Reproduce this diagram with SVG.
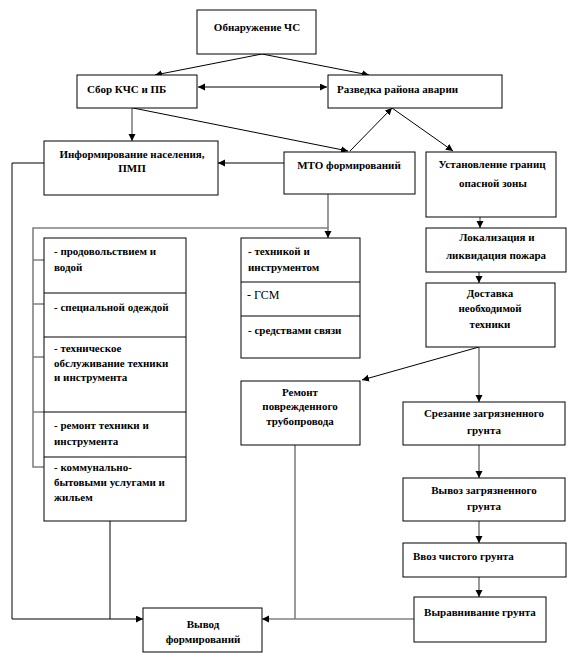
<svg xmlns="http://www.w3.org/2000/svg" width="570" height="655" viewBox="0 0 570 655">
<style>
.box{fill:#fff;stroke:#000;stroke-width:1}
text{font-family:'Liberation Serif','DejaVu Serif',serif;font-size:11px;font-weight:bold;fill:#000}
.c{text-anchor:middle}
.r{font-weight:normal;font-size:12px}
.ln{fill:none;stroke:#000;stroke-width:1}
.gl{fill:none;stroke:#808080;stroke-width:1.6}
</style>
<defs>
<marker id="ab" markerUnits="userSpaceOnUse" markerWidth="8" markerHeight="8" refX="7" refY="3.5" orient="auto-start-reverse"><path d="M0,0 L7,3.5 L0,7 Z" fill="#000"/></marker>
<marker id="ag" markerUnits="userSpaceOnUse" markerWidth="8" markerHeight="8" refX="7" refY="3.5" orient="auto"><path d="M0,0 L7,3.5 L0,7 Z" fill="#000"/></marker>
</defs>
<rect width="570" height="655" fill="#fff"/>
<g id="connectors">
<path class="ln" d="M262,54 L155,75" marker-end="url(#ab)"/>
<path class="ln" d="M262,54 L369,75" marker-end="url(#ab)"/>
<path class="ln" d="M198,87 L327,87" marker-start="url(#ab)" marker-end="url(#ab)"/>
<path class="gl" d="M132,108 L132,141" marker-end="url(#ag)"/>
<path class="ln" d="M133,108 L348,151" marker-end="url(#ab)"/>
<path class="ln" d="M350,151 L392,108" marker-end="url(#ab)"/>
<path class="ln" d="M392,108 L453,151" marker-end="url(#ab)"/>
<path class="ln" d="M284,163 L218,163" marker-end="url(#ab)"/>
<path class="ln" d="M44,163 L12,163 L12,619 L143,619" marker-end="url(#ab)"/>
<path class="gl" d="M328,194 L328,238" marker-end="url(#ag)"/>
<path class="gl" d="M328,228 L33,228 L33,467 L44,467"/>
<path class="gl" d="M33,260 L44,260 M33,304 L44,304 M33,357 L44,357 M33,412 L44,412"/>
<path class="gl" d="M480,217 L480,228" marker-end="url(#ag)"/>
<path class="gl" d="M479,272 L479,283" marker-end="url(#ag)"/>
<path class="ln" d="M479,347 L362,380" marker-end="url(#ab)"/>
<path class="gl" d="M479,347 L479,402" marker-end="url(#ag)"/>
<path class="gl" d="M479,445 L479,478" marker-end="url(#ag)"/>
<path class="gl" d="M479,521 L479,543" marker-end="url(#ag)"/>
<path class="gl" d="M479,577 L479,597" marker-end="url(#ag)"/>
<path class="gl" d="M295,445 L295,619"/>
<path class="gl" d="M414,619 L262,619" marker-end="url(#ag)"/>
<path class="ln" d="M110,521 L110,619"/>
</g>
<g id="n-obnaruzhenie"><rect class="box" x="197" y="10" width="119" height="44"/><text class="c" x="257" y="31">Обнаружение ЧС</text></g>
<g id="n-sbor"><rect class="box" x="77" y="75" width="120" height="33"/><text x="87" y="93">Сбор КЧС и ПБ</text></g>
<g id="n-razvedka"><rect class="box" x="328" y="75" width="174" height="33"/><text x="337" y="93">Разведка района  аварии</text></g>
<g id="n-inform"><rect class="box" x="44" y="141" width="174" height="54"/><text class="c" x="132" y="158">Информирование населения,</text><text class="c" x="132" y="172">ПМП</text></g>
<g id="n-mto"><rect class="box" x="284" y="152" width="131" height="42"/><text class="c" x="349" y="169">МТО формирований</text></g>
<g id="n-ustanovlenie"><rect class="box" x="426" y="152" width="130" height="65"/><text class="c" x="492" y="168">Установление  границ</text><text class="c" x="493" y="187">опасной  зоны</text></g>
<g id="n-lokalizacia"><rect class="box" x="426" y="228" width="140" height="44"/><text class="c" x="497" y="241">Локализация  и</text><text class="c" x="496" y="259">ликвидация  пожара</text></g>
<g id="n-dostavka"><rect class="box" x="426" y="283" width="129" height="64"/><text class="c" x="490" y="297">Доставка</text><text class="c" x="490" y="312">необходимой</text><text class="c" x="490" y="328">техники</text></g>
<g id="n-list1"><rect class="box" x="44" y="238" width="142" height="283"/><path class="ln" d="M44,293 H186 M44,337 H186 M44,412 H186 M44,457 H186"/>
<text x="54" y="255">- продовольствием и</text><text x="54" y="271">водой</text>
<text x="54" y="311">- специальной  одеждой</text>
<text x="54" y="352">- техническое</text><text x="54" y="367">обслуживание техники</text><text x="54" y="381">и инструмента</text>
<text x="54" y="429">- ремонт техники  и</text><text x="54" y="445">инструмента</text>
<text x="54" y="471">- коммунально-</text><text x="54" y="486">бытовыми услугами и</text><text x="54" y="501">жильем</text></g>
<g id="n-list2"><rect class="box" x="241" y="238" width="119" height="120"/><path class="ln" d="M241,282 H360 M241,316 H360"/>
<text x="248" y="255">- техникой  и</text><text x="248" y="271">инструментом</text>
<text class="r" x="247" y="299">- ГСМ</text>
<text x="248" y="334">- средствами связи</text></g>
<g id="n-remont"><rect class="box" x="241" y="381" width="119" height="64"/><text class="c" x="300" y="396">Ремонт</text><text class="c" x="300" y="410">поврежденного</text><text class="c" x="300" y="425">трубопровода</text></g>
<g id="n-srezanie"><rect class="box" x="403" y="402" width="162" height="43"/><text class="c" x="484" y="417">Срезание  загрязненного</text><text class="c" x="484" y="434">грунта</text></g>
<g id="n-vyvoz"><rect class="box" x="403" y="478" width="162" height="43"/><text class="c" x="484" y="494">Вывоз загрязненного</text><text class="c" x="484" y="510">грунта</text></g>
<g id="n-vvoz"><rect class="box" x="403" y="543" width="163" height="34"/><text x="413" y="560">Ввоз чистого грунта</text></g>
<g id="n-vyravnivanie"><rect class="box" x="414" y="597" width="132" height="45"/><text class="c" x="480" y="616">Выравнивание грунта</text></g>
<g id="n-vyvod"><rect class="box" x="143" y="608" width="119" height="44"/><text class="c" x="203" y="628">Вывод</text><text class="c" x="203" y="643">формирований</text></g>
</svg>
